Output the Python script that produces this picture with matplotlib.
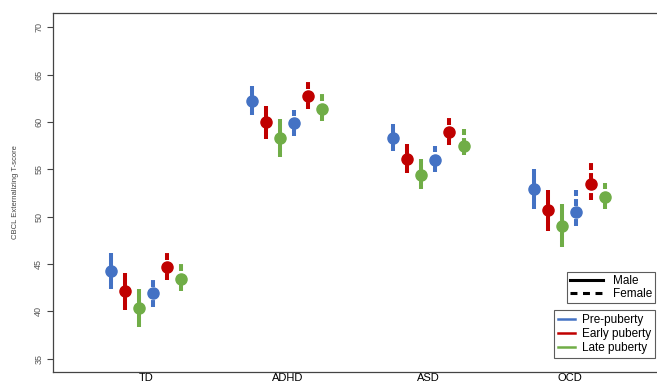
import numpy as np
import matplotlib
matplotlib.use("Agg")
import matplotlib.pyplot as plt
from matplotlib.lines import Line2D

groups = ["TD", "ADHD", "ASD", "OCD"]
stages = ["Pre-puberty", "Early puberty", "Late puberty"]
colors = ["#4472C4", "#C00000", "#70AD47"]

# mean, lower, upper for each group; rows = pre, early, late
male_mean = [[44.3, 62.2, 58.3, 52.9],
             [42.1, 60.0, 56.1, 50.7],
             [40.4, 58.3, 54.4, 49.0]]
male_lo = [[42.4, 60.7, 56.9, 50.8],
           [40.1, 58.2, 54.6, 48.5],
           [38.3, 56.3, 52.9, 46.8]]
male_hi = [[46.2, 63.8, 59.8, 55.0],
           [44.0, 61.7, 57.7, 52.8],
           [42.4, 60.3, 56.1, 51.3]]

female_mean = [[41.9, 59.9, 56.0, 50.5],
               [44.7, 62.7, 58.9, 53.4],
               [43.4, 61.4, 57.5, 52.1]]
female_lo = [[40.5, 58.5, 54.7, 49.0],
             [43.3, 61.4, 57.6, 51.8],
             [42.2, 60.1, 56.5, 50.8]]
female_hi = [[43.3, 61.3, 57.5, 52.8],
             [46.2, 64.2, 60.4, 55.7],
             [45.0, 62.9, 59.3, 53.6]]

plt.rcParams['font.family'] = ['Liberation Sans', 'DejaVu Sans']
plt.rcParams['lines.scale_dashes'] = False

fig = plt.figure(figsize=(6.57, 3.84), dpi=100)
ax = fig.add_axes([53/657, 12/384, 1 - 53/657 + 0.002, (372-13)/384])

x = np.arange(1, 5)
step = 0.1
for i in range(3):
    # male: solid bars, left half of each group
    xs = x + (i - 2.5) * step
    ax.vlines(xs, male_lo[i], male_hi[i], color=colors[i], lw=2.9)
    ax.plot(xs, male_mean[i], 'o', color=colors[i], ms=8, mec=colors[i])
    # female: dashed bars, right half
    xs = x + (i + 0.5) * step
    ax.vlines(xs, female_lo[i], female_hi[i], color=colors[i], lw=2.9,
              linestyles=[(0, (5, 2.2))])
    ax.plot(xs, female_mean[i], 'o', color=colors[i], ms=8, mec=colors[i])

ax.set_xlim(0.34, 4.63)
ax.set_ylim(33.6, 71.5)
ax.set_yticks(range(35, 71, 5))
ax.set_xticks(x)
ax.set_xticklabels(groups, fontsize=8)
ax.tick_params(axis='x', length=0, pad=1)
ax.tick_params(axis='y', length=4, width=0.8, color='#444444', labelsize=6.5,
               labelcolor='#555555', pad=3)
for t in ax.get_yticklabels():
    t.set_rotation(90)
    t.set_va('center')
for s in ['left', 'top', 'bottom']:
    ax.spines[s].set_color('#444444')
    ax.spines[s].set_linewidth(0.9)
ax.spines['right'].set_visible(False)
ax.set_ylabel("CBCL Externalizing T-score", fontsize=5.5, color='#444444', labelpad=11)

sex_handles = [Line2D([], [], color='black', lw=2.2),
               Line2D([], [], color='black', lw=2.2, ls=(0, (5, 4)))]
leg1 = ax.legend(sex_handles, ["Male", "Female"], loc='upper right',
                 bbox_to_anchor=(655/657, 1 - 272/384), bbox_transform=fig.transFigure,
                 fontsize=8.5, handlelength=2.8, handletextpad=0.8, borderpad=0.25,
                 labelspacing=0.1, frameon=True, fancybox=False, borderaxespad=0)
leg1.get_frame().set_edgecolor('#333333')
leg1.get_frame().set_linewidth(0.8)
ax.add_artist(leg1)

stage_handles = [Line2D([], [], color=c, lw=1.8) for c in colors]
leg2 = ax.legend(stage_handles, stages, loc='upper right',
                 bbox_to_anchor=(655/657, 1 - 310/384), bbox_transform=fig.transFigure,
                 fontsize=8.5, handlelength=1.4, handletextpad=0.6, borderpad=0.35,
                 labelspacing=0.15, frameon=True, fancybox=False, borderaxespad=0)
leg2.get_frame().set_edgecolor('#333333')
leg2.get_frame().set_linewidth(0.8)

fig.savefig("out.png", dpi=100)
